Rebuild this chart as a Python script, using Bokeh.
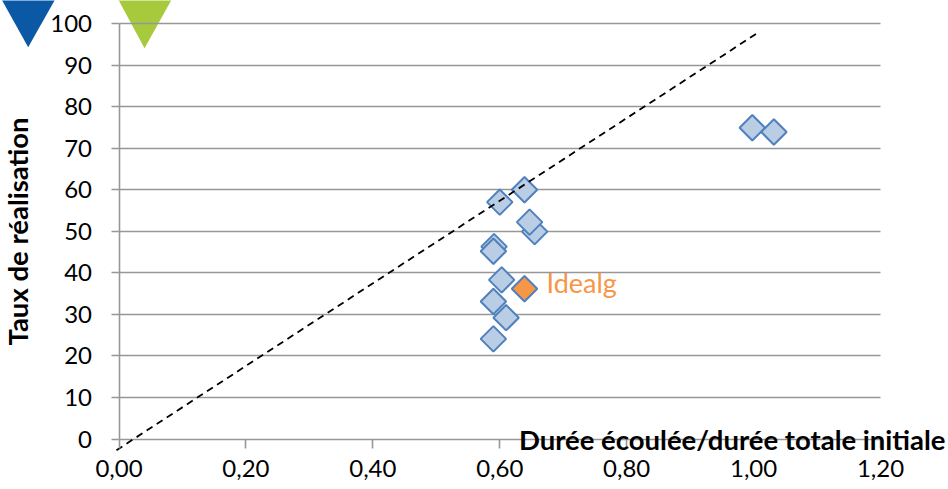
import math
from bokeh.plotting import figure
from bokeh.models import Range1d, FixedTicker, Label, PolyAnnotation, ColumnDataSource
from bokeh.embed import file_html
from bokeh.resources import INLINE

# ---- data ----
pts_x = [0.655, 0.647, 0.639, 0.600, 0.591, 0.590, 0.603, 0.590, 0.610, 0.590, 0.998, 1.032]
pts_y = [49.9, 52.2, 60.0, 57.0, 46.3, 45.2, 38.3, 33.1, 29.2, 24.1, 74.9, 73.9]
idealg_x = [0.639]
idealg_y = [36.15]
idealg_name = "Idealg"
ref_line_x = [-0.004, 1.006]
ref_line_y = [-2.7, 97.7]
x_ticks = [0.0, 0.2, 0.4, 0.6, 0.8, 1.0, 1.2]
x_tick_labels = ["0,00", "0,20", "0,40", "0,60", "0,80", "1,00", "1,20"]
y_ticks = [0, 10, 20, 30, 40, 50, 60, 70, 80, 90, 100]
x_title = "Durée écoulée/durée totale initiale"
y_title = "Taux de réalisation"

# decorative slide triangles (canvas pixels, from top-left)
blue_tri_xs = [0, 55.7, 27.7]
blue_tri_ys = [-3, -3, 46.7]
green_tri_xs = [116.7, 172.3, 144]
green_tri_ys = [-3, -3, 47.7]

FONT = "Lato"
GRID = "#979797"

W, H = 948, 489
# plot area geometry (pixels): where x=0, x=1.2, y=0 and y=100 fall
X0_PX, X12_PX, Y0_PX, Y100_PX = 118.5, 880.0, 438.5, 23.0
xs_per_px = (x_ticks[-1] - x_ticks[0]) / (X12_PX - X0_PX)
ys_per_px = (y_ticks[-1] - y_ticks[0]) / (Y0_PX - Y100_PX)
x_range = Range1d(-X0_PX * xs_per_px, (W - X0_PX) * xs_per_px)
y_range = Range1d(-(H - Y0_PX) * ys_per_px, 100 + Y100_PX * ys_per_px)

p = figure(width=W, height=H, output_backend="svg", toolbar_location=None,
           x_range=x_range, y_range=y_range,
           min_border_left=0, min_border_right=0, min_border_top=0, min_border_bottom=0)
p.outline_line_color = None
p.background_fill_color = "white"
p.border_fill_color = "white"

p.add_layout(PolyAnnotation(xs=blue_tri_xs, ys=blue_tri_ys, xs_units="canvas", ys_units="canvas",
                            fill_color="#0B58A4", fill_alpha=1, line_color=None, level="image"))
p.add_layout(PolyAnnotation(xs=green_tri_xs, ys=green_tri_ys, xs_units="canvas", ys_units="canvas",
                            fill_color="#A6CA3C", fill_alpha=1, line_color=None, level="image"))

# grid
p.xgrid.grid_line_color = None
p.ygrid.ticker = FixedTicker(ticks=y_ticks)
p.ygrid.cross_bounds = (x_ticks[0], x_ticks[-1])
p.ygrid.grid_line_color = GRID
p.ygrid.grid_line_width = 1.6

# y axis (fixed at x = 0)
ya = p.yaxis[0]
ya.fixed_location = 0
ya.ticker = FixedTicker(ticks=y_ticks)
ya.bounds = (0, 100)
ya.axis_line_color = GRID
ya.axis_line_width = 1.6
ya.major_tick_line_color = GRID
ya.major_tick_line_width = 1.6
ya.major_tick_in = 0
ya.major_tick_out = 8
ya.minor_tick_line_color = None
ya.major_label_standoff = 19
ya.major_label_text_font = FONT
ya.major_label_text_font_size = "24px"
ya.major_label_text_color = "black"
ya.axis_label = y_title
ya.axis_label_text_font = FONT
ya.axis_label_text_font_style = "bold"
ya.axis_label_text_font_size = "27.5px"
ya.axis_label_text_color = "black"
ya.axis_label_standoff = 14

# x axis (fixed at y = 0)
xa = p.xaxis[0]
xa.fixed_location = 0
xa.ticker = FixedTicker(ticks=x_ticks)
xa.bounds = (x_ticks[0], x_ticks[-1])
xa.major_label_overrides = {t: l for t, l in zip(x_ticks, x_tick_labels)}
xa.axis_line_color = None
xa.major_tick_line_color = GRID
xa.major_tick_line_width = 1.6
xa.major_tick_in = 0
xa.major_tick_out = 9
xa.minor_tick_line_color = None
xa.major_label_standoff = 12
xa.major_label_text_font = FONT
xa.major_label_text_font_size = "24px"
xa.major_label_text_color = "black"

# data
src = ColumnDataSource(dict(x=pts_x, y=pts_y))
p.scatter("x", "y", source=src, marker="square", angle=math.pi / 4, size=18,
          fill_color="#B9CDE5", line_color="#4F81BD", line_width=2)
p.scatter(idealg_x, idealg_y, marker="square", angle=math.pi / 4, size=18,
          fill_color="#F79646", line_color="#4F81BD", line_width=2)
p.line(ref_line_x, ref_line_y, line_color="black", line_width=1.8, line_dash="7 5")

p.add_layout(Label(x=idealg_x[0], y=idealg_y[0], text=idealg_name, x_offset=22, y_offset=6,
                   text_baseline="middle", text_font=FONT, text_font_size="27px",
                   text_color="#F79646"))
p.add_layout(Label(x=x_ticks[-1], y=0, text=x_title, x_offset=65, y_offset=0,
                   text_align="right", text_baseline="middle", text_font=FONT,
                   text_font_style="bold", text_font_size="27.5px", text_color="black"))

open("out.html", "w").write(file_html(p, INLINE))
